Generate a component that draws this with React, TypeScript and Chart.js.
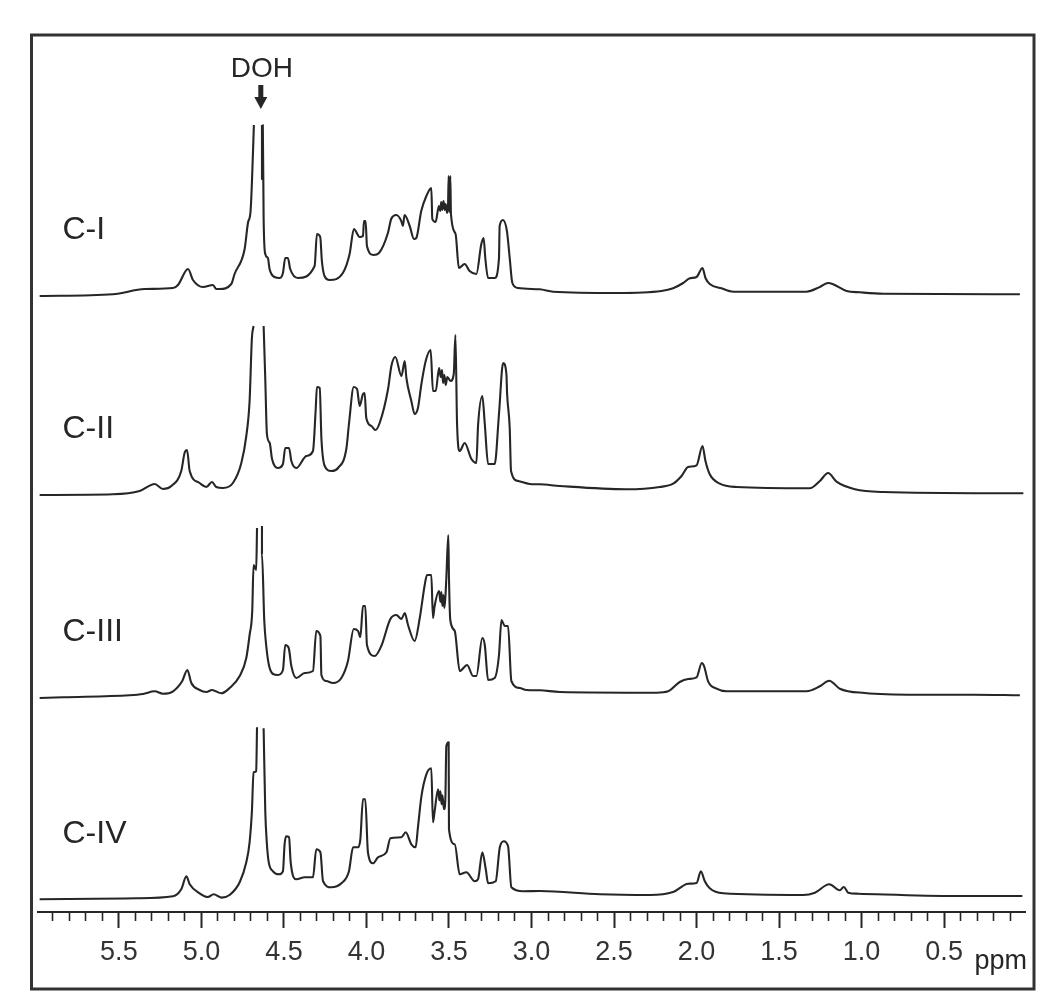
import React, { useEffect, useRef } from "react";
import { Chart, registerables } from "chart.js";

Chart.register(...registerables);

const FONT = '"Liberation Sans", Arial, sans-serif';
const INK = "#262626";

const seriesNames = ["C-I", "C-II", "C-III", "C-IV"];
const baselines = [616, 417, 214, 12.7];

const ppmI = [5.98,5.536,5.344,5.172,5.142,5.081,5.051,4.99,4.93,4.91,4.89,4.819,4.799,4.738,4.718,4.702,4.692,4.682,4.66,4.633,4.633,4.63,4.628,4.623,4.613,4.597,4.587,4.557,4.526,4.506,4.492,4.476,4.462,4.415,4.314,4.3,4.28,4.27,4.254,4.223,4.143,4.102,4.076,4.041,4.021,4.015,4.005,3.997,3.957,3.924,3.87,3.85,3.819,3.789,3.779,3.769,3.738,3.712,3.698,3.668,3.637,3.607,3.601,3.581,3.561,3.553,3.547,3.54,3.533,3.526,3.52,3.512,3.506,3.502,3.497,3.492,3.488,3.46,3.44,3.405,3.375,3.334,3.304,3.29,3.28,3.263,3.223,3.197,3.193,3.173,3.149,3.132,3.116,3.082,2.95,2.869,2.485,2.213,2.142,2.081,2.041,2.0,1.964,1.946,1.92,1.849,1.778,1.334,1.253,1.203,1.172,1.091,1.011,0.869,0.041];
const intensityI = [0,1.7,7,8,11,27,16,9,11,7,7,12,22,47,73,85,122,171,null,171,117,117,171,78,42,38,27,19,18,23,38,38,27,18,30,62,59,35,20,16,23,42,67,59,60,75,75,50,41,43,63,77,81,75,70,81,70,57,58,85,100,108,77,74,90,85,94,86,95,86,92,83,88,120,84,120,82,62,28,32,25,22,52,58,38,18,18,38,70,76,65,38,13,8,6.7,4.3,3,5,7.7,13,17.7,19,28,18,12,7.7,4.3,4.3,9,13,11.7,5,3.7,2.3,1.7];

const ppmII = [5.98,5.536,5.374,5.283,5.233,5.182,5.122,5.102,5.087,5.071,5.011,4.97,4.936,4.91,4.869,4.809,4.758,4.728,4.708,4.694,4.684,4.65,4.623,4.613,4.603,4.586,4.572,4.536,4.506,4.492,4.469,4.455,4.425,4.364,4.324,4.308,4.3,4.283,4.273,4.253,4.213,4.172,4.122,4.106,4.077,4.057,4.041,4.021,4.011,4.001,3.97,3.946,3.92,3.869,3.849,3.825,3.788,3.768,3.758,3.728,3.708,3.688,3.667,3.641,3.611,3.597,3.58,3.56,3.55,3.542,3.536,3.528,3.52,3.51,3.49,3.471,3.461,3.451,3.435,3.405,3.364,3.334,3.324,3.298,3.283,3.263,3.223,3.197,3.172,3.152,3.148,3.132,3.124,3.081,3.011,2.95,2.829,2.425,2.223,2.142,2.091,2.051,2.0,1.964,1.946,1.92,1.859,1.758,1.314,1.253,1.203,1.152,1.041,0.869,0.02];
const intensityII = [0,0.7,4,11,6,9,24,42,45,24,12,8,13,8,7,12,32,59,94,157,169,null,169,116,61,52,36,27,31,47,47,34,27,39,44,84,108,107,57,29,24,27,46,71,108,106,89,101,102,77,69,65,72,106,129,138,119,134,117,94,81,87,111,134,145,104,104,127,118,125,112,120,110,118,114,121,160,71,44,52,36,32,69,99,71,31,31,81,132,121,102,67,24,14,11,10.7,9,5.7,8,11.3,19,28,29.7,49,34,20.7,11.3,8,6.7,14,22,13.3,5.7,3,1.7];

const ppmIII = [5.98,5.839,5.435,5.354,5.283,5.233,5.172,5.116,5.085,5.061,5.011,4.97,4.936,4.879,4.829,4.768,4.728,4.708,4.692,4.684,4.668,4.663,4.648,4.633,4.633,4.619,4.607,4.591,4.566,4.536,4.506,4.492,4.471,4.455,4.425,4.374,4.324,4.304,4.279,4.273,4.243,4.203,4.152,4.112,4.077,4.051,4.037,4.021,4.007,3.997,3.95,3.91,3.855,3.819,3.788,3.768,3.748,3.708,3.677,3.647,3.633,3.607,3.597,3.587,3.56,3.552,3.546,3.54,3.534,3.528,3.522,3.516,3.504,3.5,3.492,3.465,3.435,3.39,3.354,3.334,3.298,3.283,3.263,3.223,3.197,3.182,3.162,3.142,3.122,3.071,3.031,2.95,2.829,2.243,2.172,2.102,2.051,2.0,1.968,1.954,1.93,1.879,1.819,1.334,1.253,1.196,1.132,0.98,0.667,0.324,0.041];
const intensityIII = [0,0.7,2.7,4,6.7,4.3,6.7,17,28,15,8,6,8,4.7,10,22,40,63,87,133,128,170,null,172,144,77,52,33,24,23,28,53,50,32,20,25,27,67,62,23,17,15,20,37,69,67,61,92,92,53,42,52,79,83,79,85,73,57,80,113,123,123,80,92,107,96,106,92,103,90,100,120,163,120,78,67,27,33,22,22,60,53,18,20,43,78,72,72,17,10,8,7.7,6,5.3,6.7,16,19,20.7,35,31.7,16.7,9.3,6.7,6.7,11.7,17.3,9.3,5,3.3,3.3,2.7];

const ppmIV = [5.98,5.394,5.172,5.122,5.091,5.071,5.011,4.96,4.926,4.879,4.829,4.768,4.728,4.708,4.694,4.684,4.668,4.663,4.64,4.623,4.613,4.603,4.593,4.566,4.53,4.506,4.496,4.486,4.469,4.459,4.425,4.374,4.324,4.304,4.279,4.263,4.213,4.152,4.106,4.081,4.051,4.037,4.021,4.007,3.991,3.96,3.93,3.879,3.855,3.788,3.762,3.728,3.702,3.688,3.667,3.637,3.607,3.597,3.587,3.566,3.558,3.552,3.545,3.54,3.53,3.522,3.516,3.502,3.5,3.465,3.435,3.395,3.344,3.324,3.298,3.277,3.263,3.217,3.192,3.168,3.142,3.122,3.051,2.95,2.586,2.283,2.142,2.051,2.0,1.974,1.95,1.92,1.839,1.354,1.283,1.196,1.132,1.108,1.081,1.021,0.425,0.026];
const intensityIV = [0,1,3,10,23,15,6,2.3,5,1.7,4.3,17,37,57,88,127,128,172,null,171,88,55,38,28,25,28,55,63,62,37,20,22,22,50,47,18,12,16,28,52,52,60,100,100,47,36,42,47,61,62,67,55,52,72,103,125,131,77,88,110,99,108,95,104,90,100,153,157,70,55,25,27,18,20,47,30,16,18,52,58,53,12,8,8.3,5,4.3,7.3,15.6,16.3,28,18,11,6,4.3,6.6,15,9,12.3,6.6,5.6,3.3,3.3];

const ppmSeries = [ppmI, ppmII, ppmIII, ppmIV];
const intensitySeries = [intensityI, intensityII, intensityIII, intensityIV];

const majorTicks = [5.5, 5.0, 4.5, 4.0, 3.5, 3.0, 2.5, 2.0, 1.5, 1.0, 0.5];
const minorTicks = [5.9,5.8,5.7,5.6,5.4,5.3,5.2,5.1,4.9,4.8,4.7,4.6,4.4,4.3,4.2,4.1,3.9,3.8,3.7,3.6,3.4,3.3,3.2,3.1,2.9,2.8,2.7,2.6,2.4,2.3,2.2,2.1,1.9,1.8,1.7,1.6,1.4,1.3,1.2,1.1,0.9,0.8,0.7,0.6,0.4,0.3,0.2,0.1];
const axisUnit = "ppm";
const peakLabel = "DOH";

const decorations = {
  id: "decorations",
  afterDraw(chart: any) {
    const { ctx } = chart;
    const x = chart.scales.x;
    ctx.save();
    ctx.strokeStyle = "#333333";
    ctx.lineWidth = 3;
    ctx.strokeRect(31.5, 35, 1002.5, 954);
    ctx.fillStyle = INK;
    ctx.textBaseline = "alphabetic";
    ctx.font = `32px ${FONT}`;
    ctx.textAlign = "left";
    const nameY = [239, 438, 641, 843];
    seriesNames.forEach((n, i) => ctx.fillText(n, 62.5, nameY[i]));
    ctx.font = `28px ${FONT}`;
    ctx.textAlign = "center";
    const ax = x.getPixelForValue(4.64);
    ctx.fillText(peakLabel, ax + 1, 76.5);
    ctx.fillRect(ax - 2.5, 85, 5, 13);
    ctx.beginPath();
    ctx.moveTo(ax - 6.5, 97);
    ctx.lineTo(ax + 6.5, 97);
    ctx.lineTo(ax, 109);
    ctx.closePath();
    ctx.fill();
    ctx.font = `27px ${FONT}`;
    ctx.textAlign = "left";
    ctx.fillText(axisUnit, 974.5, 969);
    ctx.restore();
  },
};

export default function App() {
  const ref = useRef<HTMLCanvasElement | null>(null);
  useEffect(() => {
    if (!ref.current) return;
    const chart = new Chart(ref.current, {
      type: "line",
      data: {
        datasets: seriesNames.map((name, i) => ({
          label: name,
          data: ppmSeries[i].map((p, j) => ({
            x: p,
            y: intensitySeries[i][j] === null ? null : (intensitySeries[i][j] as number) + baselines[i],
          })),
          borderColor: INK,
          borderWidth: 2.1,
          borderJoinStyle: "round",
          pointRadius: 0,
          cubicInterpolationMode: "monotone",
          spanGaps: false,
          fill: false,
        })),
      },
      options: {
        responsive: false,
        animation: false,
        events: [],
        layout: { padding: { left: 38, right: 25, top: 40, bottom: 81 } },
        plugins: { legend: { display: false }, tooltip: { enabled: false }, title: { display: false } },
        scales: {
          y: { type: "linear", display: false, min: 0, max: 872 },
          x: {
            type: "linear",
            reverse: true,
            min: 5.99,
            max: 0.01,
            position: { y: 0 },
            afterBuildTicks: (s: any) => {
              s.ticks = majorTicks.map((value) => ({ value }));
            },
            grid: { drawOnChartArea: false, tickLength: 15, tickWidth: 2, tickColor: INK },
            border: { display: true, color: INK, width: 2 },
            ticks: {
              autoSkip: false,
              maxRotation: 0,
              padding: 9,
              color: "#333333",
              font: { family: FONT, size: 27 },
              callback: (v: any) => Number(v).toFixed(1),
            },
          },
          xMinor: {
            type: "linear",
            axis: "x",
            reverse: true,
            min: 5.99,
            max: 0.01,
            position: { y: 0 },
            afterBuildTicks: (s: any) => {
              s.ticks = minorTicks.map((value) => ({ value }));
            },
            grid: { drawOnChartArea: false, tickLength: 9, tickWidth: 1.6, tickColor: INK },
            border: { display: false },
            ticks: { display: false, autoSkip: false },
          },
        },
      } as any,
      plugins: [decorations],
    } as any);
    return () => chart.destroy();
  }, []);
  return (
    <canvas
      ref={ref}
      width={1050}
      height={993}
      style={{ position: "absolute", left: 0, top: 0, width: 1050, height: 993 }}
    />
  );
}
